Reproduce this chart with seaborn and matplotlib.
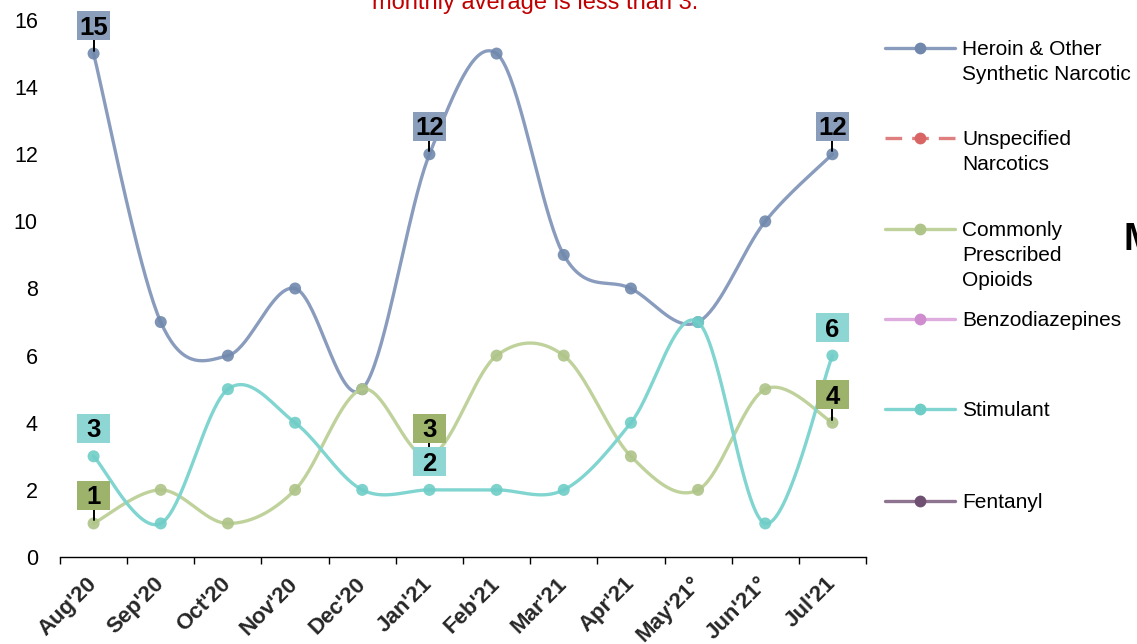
import numpy as np
import pandas as pd
import matplotlib
matplotlib.use("Agg")
import matplotlib.pyplot as plt
import matplotlib.transforms as mtransforms
from matplotlib.patches import Rectangle
from matplotlib.lines import Line2D
import seaborn as sns

# ---------------- data ----------------
months = ["Aug'20", "Sep'20", "Oct'20", "Nov'20", "Dec'20", "Jan'21",
          "Feb'21", "Mar'21", "Apr'21", "May'21°", "Jun'21°", "Jul'21"]
heroin = [15, 7, 6, 8, 5, 12, 15, 9, 8, 7, 10, 12]
unspecified = []
opioids = [1, 2, 1, 2, 5, 3, 6, 6, 3, 2, 5, 4]
benzo = []
stimulant = [3, 1, 5, 4, 2, 2, 2, 2, 4, 7, 1, 6]
fentanyl = []

series_names = ["Heroin & Other\nSynthetic Narcotic", "Unspecified\nNarcotics",
                "Commonly\nPrescribed\nOpioids", "Benzodiazepines",
                "Stimulant", "Fentanyl"]
label_idx = [0, 5, 11]
note_text = "monthly average is less than 3."

# ---------------- style ----------------
sns.set_theme(style="white")
plt.rcParams["font.family"] = ["Liberation Sans", "DejaVu Sans"]

W, H = 1137, 644
fig = plt.figure(figsize=(W / 100, H / 100), dpi=100)
ax = fig.add_axes([60 / W, 87 / H, 806 / W, 537 / H])

styles = [
    dict(line="#8A9CBD", mark="#7088AC", box="#8A9DBA", ls="-"),
    dict(line="#E07F7F", mark="#D96464", box="#E07F7F", ls=(0, (5, 3))),
    dict(line="#C0D29C", mark="#AEC488", box="#9DB36C", ls="-"),
    dict(line="#DEADDE", mark="#CF8DD0", box="#DEADDE", ls="-"),
    dict(line="#80D5D0", mark="#6FCDC7", box="#8ED6D3", ls="-"),
    dict(line="#8E7490", mark="#6F5073", box="#8E7490", ls="-"),
]
all_series = [heroin, unspecified, opioids, benzo, stimulant, fentanyl]


def smooth(vals, n=40):
    """Excel-like smoothed line: cubic Bezier through each point."""
    P = np.column_stack([np.arange(len(vals), dtype=float), np.asarray(vals, float)])
    Q = np.vstack([P[0], P, P[-1]])
    xs, ys = [], []
    t = np.linspace(0, 1, n)[:, None]
    for i in range(len(P) - 1):
        p0, p1, p2, p3 = Q[i], Q[i + 1], Q[i + 2], Q[i + 3]
        c1 = p1 + (p2 - p0) / 6.0
        c2 = p2 - (p3 - p1) / 6.0
        B = ((1 - t) ** 3) * p1 + 3 * ((1 - t) ** 2) * t * c1 + 3 * (1 - t) * t ** 2 * c2 + t ** 3 * p2
        xs.extend(B[:, 0]); ys.extend(B[:, 1])
    return np.array(xs), np.array(ys)


for k, vals in enumerate(all_series):
    if len(vals) == 0:
        continue
    st = styles[k]
    sx, sy = smooth(vals)
    sns.lineplot(x=sx, y=sy, ax=ax, color=st["line"], lw=2.4, sort=False,
                 estimator=None, zorder=2 + k * 0.1, legend=False)
    sns.scatterplot(x=np.arange(len(vals)), y=vals, ax=ax, color=st["mark"],
                    s=75, edgecolor="none", alpha=0.9, zorder=2.05 + k * 0.1, legend=False)

ax.set_xlim(-0.5, len(months) - 0.5)
ax.set_ylim(0, 16)
ax.set_yticks(range(0, 17, 2))
ax.tick_params(axis="y", length=0, pad=16, labelsize=15.5, colors="black")
ax.set_xticks(np.arange(-0.5, len(months), 1.0))
ax.set_xticklabels([])
ax.set_xticks(np.arange(len(months)), minor=True)
ax.set_xticklabels(months, minor=True)
ax.tick_params(axis="x", which="major", direction="out", length=5, width=1,
               color="black", bottom=True)
ax.tick_params(axis="x", which="minor", length=0, pad=17, labelsize=16)
for lab in ax.get_xticklabels(minor=True):
    lab.set_rotation(45)
    lab.set_ha("right")
    lab.set_va("center")
    lab.set_rotation_mode("anchor")
    lab.set_fontweight("bold")
for s in ["left", "top", "right"]:
    ax.spines[s].set_visible(False)
ax.spines["bottom"].set_color("black")
ax.spines["bottom"].set_linewidth(1)
ax.grid(False)
ax.set_xlabel("")
ax.set_ylabel("")

# ---------------- data labels ----------------
bw, bh, dy = 0.33, 0.29, 0.28
leaders = {0: True, 2: True, 4: False}
for k in [0, 2, 4]:
    vals = all_series[k]
    for i in label_idx:
        v = vals[i]
        tr = fig.dpi_scale_trans + mtransforms.ScaledTranslation(i, v, ax.transData)
        ax.add_patch(Rectangle((-bw / 2, dy - bh / 2), bw, bh, transform=tr,
                               facecolor=styles[k]["box"], edgecolor="none",
                               zorder=6, clip_on=False))
        ax.text(0, dy - 0.09, str(v), transform=tr, ha="center", va="baseline",
                fontsize=18.5, fontweight="bold", color="black", zorder=7, clip_on=False)
        if leaders[k]:
            ax.add_line(Line2D([0, 0], [dy - bh / 2, 0.03], transform=tr,
                               color="black", lw=1.4, zorder=4, clip_on=False))

# ---------------- legend (drawn like the Excel one) ----------------
def fx(px):
    return px / W


def fy(py):
    return 1 - py / H


leg_y = [48, 138, 229, 319, 409, 501]
for k, (name, yy) in enumerate(zip(series_names, leg_y)):
    st = styles[k]
    fig.add_artist(Line2D([fx(885), fx(955)], [fy(yy), fy(yy)], transform=fig.transFigure,
                          color=st["line"], lw=2.4, linestyle=st["ls"]))
    fig.add_artist(Line2D([fx(920)], [fy(yy)], transform=fig.transFigure,
                          color=st["mark"], marker="o", markersize=8.5, markeredgewidth=0))
    for j, line in enumerate(name.split("\n")):
        fig.text(fx(962), fy(yy + 7 + 25 * j), line, ha="left", va="baseline",
                 fontsize=15, color="black")

# ---------------- cut-off texts ----------------
fig.text(fx(535), fy(8.5), note_text, ha="center", va="baseline",
         fontsize=17, color="#C00000")
fig.text(fx(1123), fy(250), "M", ha="left", va="baseline", fontsize=27,
         fontweight="bold", color="black")

fig.savefig("out.png", dpi=100)
